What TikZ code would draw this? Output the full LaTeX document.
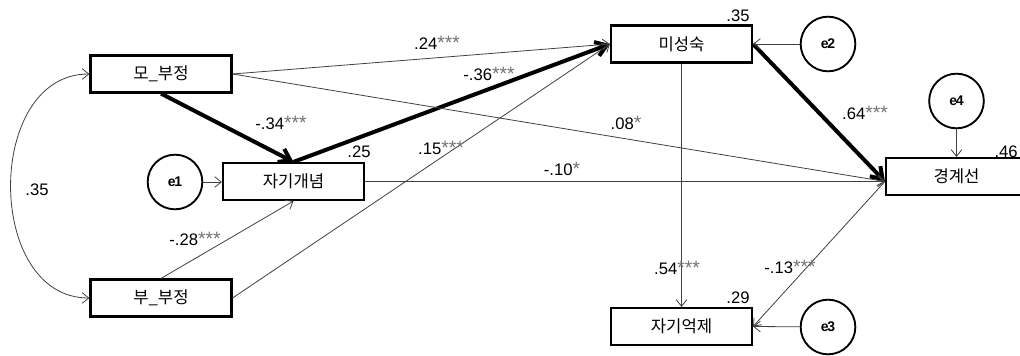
\documentclass[tikz,border=0pt]{standalone}
\usepackage{fontspec}
\setmainfont{Liberation Sans}
\newfontfamily\krfont{Noto Sans CJK KR}
\usepackage{xcolor}
\usetikzlibrary{arrows.meta,positioning,calc}
\newcommand{\sig}[1]{\textcolor{black!55}{\fontsize{14.5}{14}\selectfont #1}}

\begin{document}
\begin{tikzpicture}[x=0.75pt, y=-0.75pt,
		var/.style={rectangle, draw, line width=1.6pt, minimum width=105.75pt, minimum height=27.75pt, inner sep=0pt, font=\krfont\fontsize{12.5}{14}\selectfont},
		err/.style={circle, draw, line width=1.4pt, minimum size=41pt, inner sep=0pt, font=\bfseries\fontsize{10.5}{12}\selectfont},
		thinpath/.style={-{Straight Barb[length=5pt,width=8pt]}, line width=0.6pt, draw=black!75},
		boldpath/.style={-{Straight Barb[length=8pt,width=11pt]}, line width=3pt},
		coef/.style={inner sep=0pt, font=\fontsize{12.5}{14}\selectfont}]

		\useasboundingbox (0,0) rectangle (1020,356);

		% observed variables
		\node [var] (mo) at (161,74) {모\_부정};
		\node [var] (bu) at (161,298) {부\_부정};
		\node [var] (jg) at (293.5,181.5) {자기개념};
		\node [var] (mi) at (681.5,44) {미성숙};
		\node [var] (ja) at (681.5,326.5) {자기억제};
		\node [var] (kg) at (956.5,176.5) {경계선};

		% error terms
		\node [err] (e1) at (175,182) {e\kern-1pt1};
		\node [err] (e2) at (828,44) {e\kern-1pt2};
		\node [err] (e3) at (828,327) {e\kern-1pt3};
		\node [err] (e4) at (956.5,101) {e\kern-1pt4};

		\coordinate (kgin) at (kg.west |- jg.east);

		% paths
		\draw [boldpath] (mo.south) -- (jg.north);
		\draw [boldpath] (jg.north) -- (mi.west);
		\draw [boldpath] (mi.east) -- (kgin);
		\draw [thinpath] (mo.east) -- (mi.west);
		\draw [thinpath] (bu.east) -- (mi.west);
		\draw [thinpath] (mo.east) -- (kgin);
		\draw [thinpath] (jg.east) -- (kgin);
		\draw [thinpath] (bu.north) -- (jg.south);
		\draw [thinpath] (mi.south) -- (ja.north);
		\draw [thinpath] (kgin) -- (ja.east);
		\draw [thinpath, {Straight Barb[length=5pt,width=8pt]}-{Straight Barb[length=5pt,width=8pt]}] (mo.west) to[out=180, in=180, looseness=1.2] (bu.west);

		\draw [thinpath] (e1.east) -- (e1.east -| jg.west);
		\draw [thinpath] (e2) -- (mi.east);
		\draw [thinpath] (e3) -- (ja.east);
		\draw [thinpath] (e4) -- (kg.north);

		% coefficients
		\node [coef] (cmojg) at (281,123) {-.34\sig{***}};
		\node [coef] (cjgmi) at (489,74) {-.36\sig{***}};
		\node [coef] (cmomi) at (437,43) {.24\sig{***}};
		\node [coef] (cbumi) at (441,148) {.15\sig{***}};
		\node [coef] (cmokg) at (626,123) {.08\sig{*}};
		\node [coef] (cjgkg) at (562,169) {-.10\sig{*}};
		\node [coef] (cbujg) at (195,239) {-.28\sig{***}};
		\node [coef] (cmikg) at (865,113) {.64\sig{***}};
		\node [coef] (cmija) at (677,268) {.54\sig{***}};
		\node [coef] (ckgja) at (790,267) {-.13\sig{***}};
		\node [coef] (ccov) at (37,190) {.35};

		% squared multiple correlations
		\node [coef] (rjg) at (359,152) {.25};
		\node [coef] (rmi) at (738,16) {.35};
		\node [coef] (rja) at (738,298) {.29};
		\node [coef, anchor=east] (rkg) at (1018,152) {.46};

	\end{tikzpicture}
\end{document}
